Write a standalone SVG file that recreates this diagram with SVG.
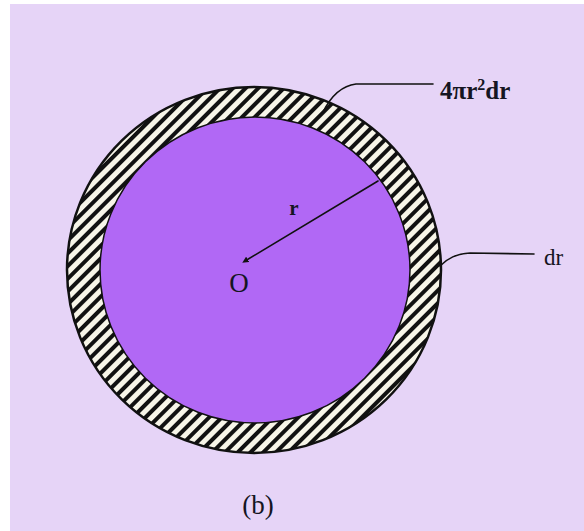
<svg xmlns="http://www.w3.org/2000/svg" width="584" height="531" viewBox="0 0 584 531">
  <style>
    .lbl { font-family: "Liberation Serif", "Times New Roman", serif; fill: #151522; }
    .lead { fill: none; stroke: #111; stroke-width: 1.6; stroke-linecap: round; }
  </style>
  <defs>
    <pattern id="hatch" patternUnits="userSpaceOnUse" width="9" height="9" patternTransform="rotate(45)">
      <rect x="0" y="0" width="9" height="9" fill="#f7f5e8"/>
      <rect x="0" y="0" width="4" height="9" fill="#111"/>
    </pattern>
    <marker id="dot" viewBox="0 0 6 6" refX="3" refY="3" markerWidth="4" markerHeight="4" orient="auto">
      <path d="M0,0 L6,3 L0,6 z" fill="#111"/>
    </marker>
  </defs>
  <rect x="0" y="0" width="584" height="531" fill="#ffffff"/>
  <rect x="10" y="4" width="574" height="527" fill="#e6d4f7"/>

  <g id="shell">
    <ellipse cx="254" cy="270" rx="187" ry="183" fill="url(#hatch)" stroke="#111" stroke-width="2.5"/>
  </g>
  <g id="sphere">
    <ellipse cx="255" cy="270" rx="155" ry="153" fill="#b168f5" stroke="#111" stroke-width="1.5"/>
  </g>

  <g id="connectors">
    <line class="lead" x1="378" y1="181" x2="245" y2="261" marker-end="url(#dot)"/>
    <path class="lead" d="M323,112 C330,98 340,86 356,84 L433,84"/>
    <path class="lead" d="M440,266 C448,258 456,254 470,253 L534,254"/>
  </g>

  <g id="label-O"><text class="lbl" x="239" y="292" font-size="27" text-anchor="middle">O</text></g>
  <g id="label-r"><text class="lbl" x="294" y="215" font-size="21" font-weight="bold" text-anchor="middle">r</text></g>
  <g id="label-shell"><text class="lbl" x="440" y="99" font-size="25" font-weight="bold">4πr<tspan font-size="16" dy="-9">2</tspan><tspan dy="9">dr</tspan></text></g>
  <g id="label-dr"><text class="lbl" x="544" y="265" font-size="23">dr</text></g>
  <g id="label-b"><text class="lbl" x="258" y="514" font-size="27" text-anchor="middle">(b)</text></g>
</svg>
